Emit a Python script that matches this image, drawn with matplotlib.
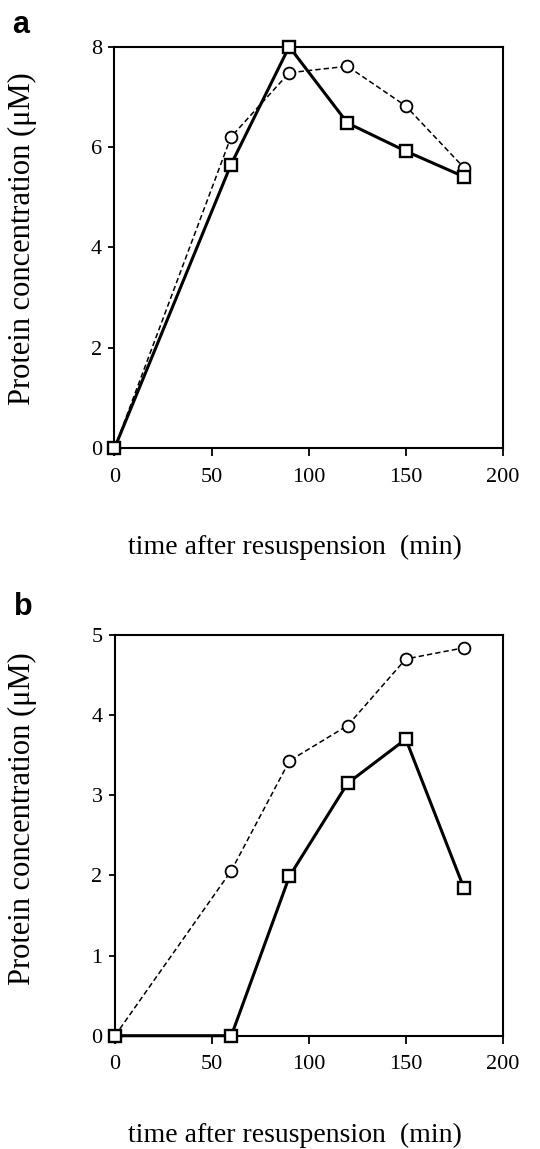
import numpy as np
import matplotlib
matplotlib.use("Agg")
import matplotlib.pyplot as plt

# time points (min)
time = [0, 60, 90, 120, 150, 180]

# panel a
a_square = [0, 5.65, 8.0, 6.48, 5.92, 5.41]
a_circle = [0, 6.2, 7.48, 7.61, 6.82, 5.59]

# panel b
b_square = [0, 0, 1.99, 3.15, 3.70, 1.84]
b_circle = [0, 2.06, 3.43, 3.87, 4.70, 4.84]

xticks = [0, 50, 100, 150, 200]
a_yticks = [0, 2, 4, 6, 8]
b_yticks = [0, 1, 2, 3, 4, 5]

plt.rcParams['font.family'] = ['Liberation Serif', 'DejaVu Serif']

fig = plt.figure(figsize=(5.4, 11.49), dpi=100)
ax_a = fig.add_axes([0.212, 0.6098, 0.719, 0.3496])
ax_b = fig.add_axes([0.213, 0.0986, 0.718, 0.3488])


def draw_panel(ax, circ, sq, yticks):
    ax.plot(time, circ, color='black', linestyle=(0, (3.5, 2)), linewidth=1.1,
            marker='o', markersize=8.5, markerfacecolor='white',
            markeredgecolor='black', markeredgewidth=1.3, clip_on=False, zorder=3)
    ax.plot(time, sq, color='black', linestyle='-', linewidth=2.2,
            marker='s', markersize=9, markerfacecolor='white',
            markeredgecolor='black', markeredgewidth=1.7, clip_on=False, zorder=4)
    ax.set_xlim(0, 200)
    ax.set_ylim(yticks[0], yticks[-1])
    ax.set_xticks(xticks)
    ax.set_yticks(yticks)
    ax.tick_params(direction='out', width=1.3, labelsize=16,
                   top=False, right=False)
    ax.tick_params(axis='x', length=6, pad=8)
    ax.tick_params(axis='y', length=4, pad=5)
    for sp in ax.spines.values():
        sp.set_linewidth(1.5)


draw_panel(ax_a, a_circle, a_square, a_yticks)
draw_panel(ax_b, b_circle, b_square, b_yticks)

ylab = 'Protein concentration (\u03bcM)'
fig.text(0.041, 1 - 238.5 / 1149, ylab, fontsize=22, rotation=90,
         ha='center', va='center')
fig.text(0.041, 1 - 819 / 1149, ylab, fontsize=22, rotation=90,
         ha='center', va='center')

xlab = 'time after resuspension  (min)'
fig.text(0.546, 1 - 547 / 1149, xlab, fontsize=20, ha='center', va='center')
fig.text(0.546, 1 - 1135 / 1149, xlab, fontsize=20, ha='center', va='center')

fig.text(0.022, 1 - 25 / 1149, 'a', fontsize=22, fontweight='bold',
         family='Liberation Sans', ha='left', va='center')
fig.text(0.025, 1 - 607 / 1149, 'b', fontsize=22, fontweight='bold',
         family='Liberation Sans', ha='left', va='center')

fig.savefig('out.png', dpi=100, facecolor='white')
